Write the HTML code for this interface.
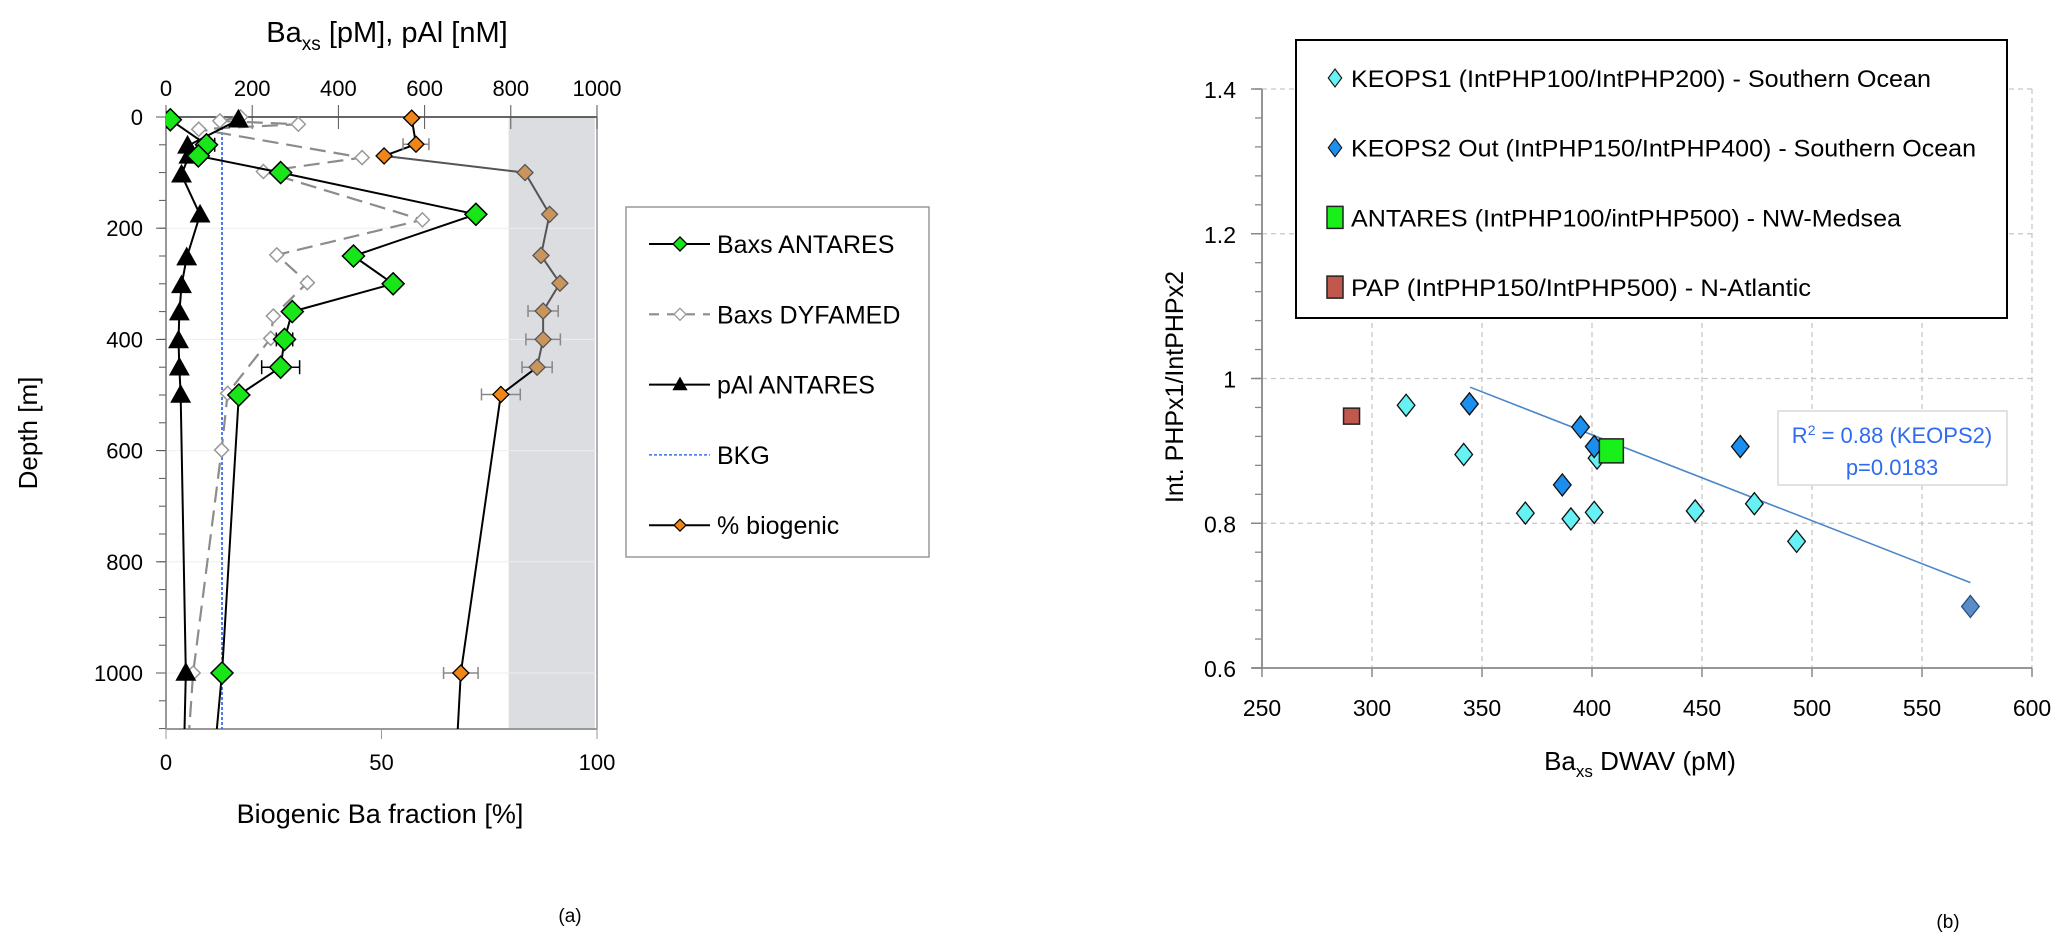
<!DOCTYPE html>
<html><head><meta charset="utf-8"><style>
body{margin:0;background:#fff}
svg{display:block;font-family:"Liberation Sans",sans-serif}
</style></head><body>
<svg id="s" width="2067" height="950" viewBox="0 0 2067 950" xmlns="http://www.w3.org/2000/svg">
<g id="L"></g>
<g id="R"></g>
</svg>
<script>
// ---------- Left chart data ----------
const antDepth=[5,50,70,100,175,250,300,350,400,450,500,1000,1200];
const antBaxs=[10,94,75,266,719,435,527,293,275,266,169,130,106];
const antErr=[0,19,0,0,0,0,0,9,19,44,9,0,0];
const dyfDepth=[0,7,13,22,73,98,185,248,298,358,398,497,599,1000,1200];
const dyfBaxs=[173,125,307,76,455,226,595,257,328,249,243,143,129,63,45];
const palDepth=[5,52,70,104,176,253,303,352,402,451,500,1000,1200];
const palVal=[168,50,53,36,79,48,36,31,29,31,34,46,40];
const bioDepth=[2,49,70,100,175,249,299,349,400,450,499,1000,1200];
const bioPct=[57,58,50.6,83.3,89,87,91.4,87.5,87.5,86.1,77.7,68.4,67];
const bioErr=[0,3,0,0,0,0,0,3.5,4,3.5,4.5,4,0];
const bkgValue=130;
const topTicks=[0,200,400,600,800,1000];
const depthTicks=[0,200,400,600,800,1000];
const pctTicks=[0,50,100];
// ---------- Right chart data ----------
const k1X=[315.5,341.7,369.7,390.4,401,402.3,446.9,473.8,493];
const k1Y=[0.963,0.895,0.814,0.806,0.815,0.890,0.817,0.827,0.775];
const k2X=[344.3,394.8,401,386.5,467.4];
const k2Y=[0.965,0.933,0.906,0.853,0.906];
const k2bX=[572];
const k2bY=[0.685];
const antX=[408.8];
const antY=[0.900];
const papX=[290.7];
const papY=[0.948];
const trendX=[344.6,572];
const trendY=[0.988,0.718];
const xTicksR=[250,300,350,400,450,500,550,600];
const yTicksR=[0.6,0.8,1.0,1.2,1.4];

const NS="http://www.w3.org/2000/svg";
function mk(parent,tag,attrs,text){const e=document.createElementNS(NS,tag);for(const k in attrs)e.setAttribute(k,attrs[k]);if(text!==undefined)e.textContent=text;parent.appendChild(e);return e;}

// ---- Left axes ----
const L=document.getElementById('L');
const LX0=166,LX1=597,LY0=117,LY1=729;
const xb=v=>LX0+v/1000*(LX1-LX0);
const xp=p=>LX0+p/100*(LX1-LX0);
const yd=d=>LY0+d*0.556;
let e;
e=mk(L,'defs',{});
const cp=mk(e,'clipPath',{id:'lclip'});mk(cp,'rect',{x:LX0,y:LY0-20,width:LX1-LX0,height:LY1-LY0+20});
e=mk(L,'rect',{x:xp(79.5),y:LY0,width:xp(99.5)-xp(79.5),height:LY1-LY0,fill:'#dcdde1'});


depthTicks.forEach(d=>{if(d>0){e=mk(L,'line',{x1:LX0,x2:LX1,y1:yd(d),y2:yd(d),stroke:'#eee','stroke-width':1});}});
for(let d=50;d<=1100;d+=50){mk(L,'line',{x1:LX0-7,x2:LX0,y1:yd(d),y2:yd(d),stroke:'#555','stroke-width':1});}
depthTicks.forEach(d=>{mk(L,'line',{x1:LX0-10,x2:LX0,y1:yd(d),y2:yd(d),stroke:'#555'});
 e=mk(L,'text',{x:143,y:yd(d)+8,'text-anchor':'end','font-size':22},d);
 
 });
mk(L,'line',{x1:LX0,x2:LX1,y1:LY0,y2:LY0,stroke:'#333','stroke-width':1.5});
mk(L,'line',{x1:LX0,x2:LX0,y1:LY0,y2:LY1,stroke:'#777','stroke-width':1.5});
mk(L,'line',{x1:LX1,x2:LX1,y1:LY0,y2:LY1,stroke:'#999','stroke-width':1.5});
mk(L,'line',{x1:LX0,x2:LX1,y1:LY1,y2:LY1,stroke:'#999','stroke-width':2});
topTicks.forEach(v=>{mk(L,'line',{x1:xb(v),x2:xb(v),y1:LY0-12,y2:LY0+12,stroke:'#555'});
 e=mk(L,'text',{x:xb(v),y:96,'text-anchor':'middle','font-size':22},v);
 
 });
pctTicks.forEach(v=>{mk(L,'line',{x1:xp(v),x2:xp(v),y1:LY1,y2:LY1+10,stroke:'#999'});
 e=mk(L,'text',{x:xp(v),y:770,'text-anchor':'middle','font-size':22},v);
 
 });
e=mk(L,'text',{x:387,y:42,'text-anchor':'middle','font-size':29});
e.innerHTML='Ba<tspan font-size="19" dy="8">xs</tspan><tspan dy="-8"> [pM], pAl [nM]</tspan>';


e=mk(L,'text',{x:380,y:823,'text-anchor':'middle','font-size':27},'Biogenic Ba fraction [%]');


e=mk(L,'text',{x:37,y:433,'text-anchor':'middle','font-size':26,transform:'rotate(-90 37 433)'},'Depth [m]');


e=mk(L,'text',{x:570,y:922,'text-anchor':'middle','font-size':19},'(a)');



const G=mk(L,'g',{'clip-path':'url(#lclip)'});
function poly(xs,ds,fx,attrs,name){const pts=xs.map((v,i)=>fx(v)+','+yd(ds[i])).join(' ');
 const p=mk(G,'polyline',Object.assign({points:pts,fill:'none'},attrs));return p;}
function diamond(g,cx,cy,r,fill,stroke,sw){return mk(g,'polygon',{points:`${cx},${cy-r} ${cx+r},${cy} ${cx},${cy+r} ${cx-r},${cy}`,fill:fill,stroke:stroke,'stroke-width':sw});}
function tri(g,cx,cy,r){return mk(g,'polygon',{points:`${cx},${cy-r} ${cx+r*0.95},${cy+r*0.7} ${cx-r*0.95},${cy+r*0.7}`,fill:'#000'});}
function errbar(g,x1,x2,y){mk(g,'line',{x1:x1,x2:x2,y1:y,y2:y,stroke:'#888','stroke-width':1.5});[x1,x2].forEach(x=>mk(g,'line',{x1:x,x2:x,y1:y-6,y2:y+6,stroke:'#888','stroke-width':1.5}));}

e=mk(G,'line',{x1:xb(bkgValue),x2:xb(bkgValue),y1:LY0,y2:LY1,stroke:'#3a6ff0','stroke-width':1.8,'stroke-dasharray':'3,2'});


const bx=bioPct.map(xp);
for(let i=0;i<bioPct.length-1;i++){const c=(i>=2&&i<9)?'#555':'#000';
 mk(G,'line',{x1:bx[i],y1:yd(bioDepth[i]),x2:bx[i+1],y2:yd(bioDepth[i+1]),stroke:c,'stroke-width':2});}
bioPct.forEach((v,i)=>{if(bioErr[i])errbar(G,xp(v-bioErr[i]),xp(v+bioErr[i]),yd(bioDepth[i]));});
bioPct.forEach((v,i)=>{const tan=(i>=3&&i<=9);e=diamond(G,xp(v),yd(bioDepth[i]),8,tan?'#c9955c':'#f08518',tan?'#555':'#000',1.3);
 
 });
poly(dyfBaxs,dyfDepth,xb,{stroke:'#8c8c8c','stroke-width':2.2,'stroke-dasharray':'16,8'},'dyfamed-line');
dyfBaxs.forEach((v,i)=>{e=diamond(G,xb(v),yd(dyfDepth[i]),7,'#fff','#999',1.5);
 
 });
poly(palVal,palDepth,xb,{stroke:'#000','stroke-width':2},'pal-line');
palVal.forEach((v,i)=>{e=tri(G,xb(v),yd(palDepth[i]),11);
 
 });
poly(antBaxs,antDepth,xb,{stroke:'#000','stroke-width':2},'antares-line');
antBaxs.forEach((v,i)=>{if(antErr[i]){const y=yd(antDepth[i]);mk(G,'line',{x1:xb(v-antErr[i]),x2:xb(v+antErr[i]),y1:y,y2:y,stroke:'#000','stroke-width':1.5});[v-antErr[i],v+antErr[i]].forEach(q=>mk(G,'line',{x1:xb(q),x2:xb(q),y1:y-7,y2:y+7,stroke:'#000','stroke-width':1.5}));}});
antBaxs.forEach((v,i)=>{e=diamond(G,xb(v),yd(antDepth[i]),11,'#19e619','#000',1.5);
 
 });

const LG=mk(L,'g',{});


mk(LG,'rect',{x:626,y:207,width:303,height:350,fill:'#fff',stroke:'#999','stroke-width':1.5});
const legNames=['Baxs ANTARES','Baxs DYFAMED','pAl ANTARES','BKG','% biogenic'];
legNames.forEach((n,i)=>{const y=244+i*70.3;
 if(i===1){mk(LG,'line',{x1:649,x2:710,y1:y,y2:y,stroke:'#8c8c8c','stroke-width':2.2,'stroke-dasharray':'10,8'});}
 else if(i===3){mk(LG,'line',{x1:649,x2:710,y1:y,y2:y,stroke:'#3a6ff0','stroke-width':1.5,'stroke-dasharray':'3,2'});}
 else mk(LG,'line',{x1:649,x2:710,y1:y,y2:y,stroke:'#000','stroke-width':2});
 if(i===0)diamond(LG,680,y,7,'#19e619','#000',1.3);
 if(i===1)diamond(LG,680,y,6,'#fff','#999',1.3);
 if(i===2)tri(LG,680,y,8);
 if(i===4)diamond(LG,680,y,6,'#f08518','#000',1.2);
 e=mk(LG,'text',{x:717,y:y+9,'font-size':25},n);
 
 });

// ---- Right chart ----
const R=document.getElementById('R');
const RX0=1262,RX1=2032,RY0=89,RY1=668;
const xr=v=>RX0+(v-250)/350*(RX1-RX0);
const yr=v=>RY1-(v-0.6)/0.8*(RY1-RY0);
xTicksR.forEach(v=>{if(v>250)mk(R,'line',{x1:xr(v),x2:xr(v),y1:RY0,y2:RY1,stroke:'#c8c8c8','stroke-width':1.3,'stroke-dasharray':'5,4'});});
yTicksR.forEach(v=>{if(v>0.6)mk(R,'line',{x1:RX0,x2:RX1,y1:yr(v),y2:yr(v),stroke:'#c8c8c8','stroke-width':1.3,'stroke-dasharray':'5,4'});});
for(let v=0.6;v<1.401;v+=0.04){mk(R,'line',{x1:RX0-7,x2:RX0,y1:yr(v),y2:yr(v),stroke:'#888','stroke-width':1.3});}
mk(R,'line',{x1:RX0,x2:RX0,y1:RY0,y2:RY1,stroke:'#888','stroke-width':1.8});
mk(R,'line',{x1:RX0-10,x2:RX1,y1:RY1,y2:RY1,stroke:'#888','stroke-width':1.8});
xTicksR.forEach(v=>{mk(R,'line',{x1:xr(v),x2:xr(v),y1:RY1,y2:RY1+9,stroke:'#888','stroke-width':1.5});
 e=mk(R,'text',{x:xr(v),y:716,'text-anchor':'middle','font-size':23},v);
 
 });
yTicksR.forEach(v=>{mk(R,'line',{x1:RX0-11,x2:RX0,y1:yr(v),y2:yr(v),stroke:'#888','stroke-width':1.5});
 e=mk(R,'text',{x:1236,y:yr(v)+9,'text-anchor':'end','font-size':23},v===1?'1':v.toFixed(1));
 
 });
e=mk(R,'text',{x:1640,y:770,'text-anchor':'middle','font-size':26});
e.innerHTML='Ba<tspan font-size="17" dy="7">xs</tspan><tspan dy="-7"> DWAV (pM)</tspan>';


e=mk(R,'text',{x:1183,y:387,'text-anchor':'middle','font-size':25,transform:'rotate(-90 1183 387)'},'Int. PHPx1/IntPHPx2');


e=mk(R,'text',{x:1948,y:928,'text-anchor':'middle','font-size':19},'(b)');


e=mk(R,'line',{x1:xr(trendX[0]),y1:yr(trendY[0]),x2:xr(trendX[1]),y2:yr(trendY[1]),stroke:'#4a86c8','stroke-width':1.6});


function rdiam(x,y,fill,stroke,name){const cx=xr(x),cy=yr(y);const p=diamond(R,cx,cy,11,fill,stroke,1.5);p.setAttribute('transform',`translate(${cx},${cy}) scale(0.8,1) translate(${-cx},${-cy})`);}
k1X.forEach((x,i)=>rdiam(x,k1Y[i],'#66f2f5','#111','keops1-point'));
k2X.forEach((x,i)=>rdiam(x,k2Y[i],'#1b8ff0','#111','keops2-point'));
k2bX.forEach((x,i)=>rdiam(x,k2bY[i],'#5a8cc8','#2c4f80','keops2-outlier-point'));
antX.forEach((x,i)=>{e=mk(R,'rect',{x:xr(x)-12,y:yr(antY[i])-12,width:24,height:24,fill:'#19f019',stroke:'#222','stroke-width':1.5});
 
 });
papX.forEach((x,i)=>{e=mk(R,'rect',{x:xr(x)-8,y:yr(papY[i])-8,width:16,height:16,fill:'#c0584d',stroke:'#222','stroke-width':1.5});
 
 });
const RB=mk(R,'g',{});


mk(RB,'rect',{x:1778,y:411,width:229,height:74,fill:'#fff',stroke:'#d9d9d9','stroke-width':1.5});
mk(RB,'text',{x:1892,y:443,'text-anchor':'middle','font-size':22,fill:'#2f6bf2'}).innerHTML='R<tspan font-size="14" dy="-8">2</tspan><tspan dy="8"> = 0.88 (KEOPS2)</tspan>';
mk(RB,'text',{x:1892,y:475,'text-anchor':'middle','font-size':22,fill:'#2f6bf2'},'p=0.0183');
const RG=mk(R,'g',{});


mk(RG,'rect',{x:1296,y:40,width:711,height:278,fill:'#fff',stroke:'#000','stroke-width':2});
const rl=['KEOPS1 (IntPHP100/IntPHP200) - Southern Ocean','KEOPS2 Out (IntPHP150/IntPHP400) - Southern Ocean','ANTARES (IntPHP100/intPHP500) - NW-Medsea','PAP (IntPHP150/IntPHP500) - N-Atlantic'];
const rlw=[580,625,550,460];
rl.forEach((t,i)=>{const y=78+i*69.7;
 if(i===0){const p=diamond(RG,1335,y,9,'#66f2f5','#111',1.3);p.setAttribute('transform',`translate(1335,${y}) scale(0.75,1) translate(-1335,${-y})`);}
 if(i===1){const p=diamond(RG,1335,y,9,'#1b8ff0','#111',1.3);p.setAttribute('transform',`translate(1335,${y}) scale(0.75,1) translate(-1335,${-y})`);}
 if(i===2)mk(RG,'rect',{x:1327,y:y-11,width:16,height:22,fill:'#19f019',stroke:'#222','stroke-width':1.5});
 if(i===3)mk(RG,'rect',{x:1327,y:y-11,width:16,height:22,fill:'#c0584d',stroke:'#222','stroke-width':1.5});
 e=mk(RG,'text',{x:1351,y:y+9,'font-size':24,textLength:rlw[i],lengthAdjust:'spacingAndGlyphs'},t);
 
 });
</script>
</body></html>
